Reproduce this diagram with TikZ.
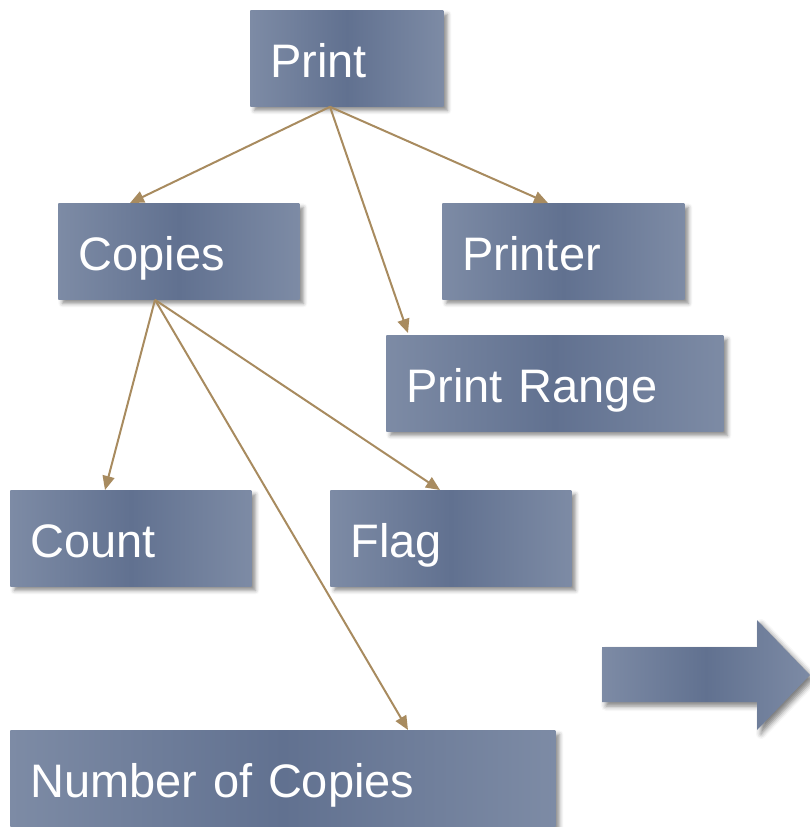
\documentclass[tikz,border=0pt]{standalone}
\usepackage{fontspec}
\setmainfont{Liberation Sans}
\usetikzlibrary{arrows.meta,shadows.blur,calc}
\definecolor{boxlight}{HTML}{7D8BA5}
\definecolor{boxdark}{HTML}{617190}
\definecolor{linkc}{HTML}{A88B5F}
\tikzset{
  box/.style={rectangle, anchor=north west, inner xsep=10pt, inner ysep=0pt,
    minimum height=48pt, align=left, text=white, text height=20.5pt, text depth=1.5pt,
    font=\fontsize{23.5}{28}\selectfont,
    left color=boxlight, right color=boxlight, middle color=boxdark,
    blur shadow={shadow xshift=2pt, shadow yshift=-2pt, shadow blur radius=2pt, shadow opacity=45}},
  link/.style={draw=linkc, line width=1pt, -{Triangle[length=7pt,width=6pt]}},
  bigarrow/.style={left color=boxlight, right color=boxlight, middle color=boxdark,
    blur shadow={shadow xshift=2pt, shadow yshift=-2pt, shadow blur radius=2.5pt, shadow opacity=50}}
}
\begin{document}
\begin{tikzpicture}[x=0.5pt,y=-0.5pt]
\useasboundingbox (0,0) rectangle (810,827);
\node[box, text width=76.5pt] (print) at (250,10) {Print};
\node[box, text width=100.5pt] (copies) at (58,203) {Copies};
\node[box, text width=101pt] (printer) at (442,203) {Printer};
\node[box, text width=148.5pt] (range) at (386,335) {Print Range};
\node[box, text width=100.5pt] (count) at (10,490) {Count};
\node[box, text width=100.5pt] (flag) at (330,490) {Flag};
\node[box, text width=252.5pt] (number) at (10,730) {Number of Copies};
\path[bigarrow] (602,647) -- (757,647) -- (757,620) -- (810,675) -- (757,730) -- (757,702) -- (602,702) -- cycle;
\coordinate (ps) at ([xshift=40pt]print.south west);
\coordinate (cs) at ([xshift=48.5pt]copies.south west);
\draw[link] (ps) -- ([xshift=36pt]copies.north west);
\draw[link] (ps) -- ([xshift=53pt]printer.north west);
\draw[link] (ps) -- ([xshift=11pt,yshift=1pt]range.north west);
\draw[link] (cs) -- ([xshift=47.5pt]count.north west);
\draw[link] (cs) -- ([xshift=55pt]flag.north west);
\draw[link] (cs) -- ([xshift=199pt]number.north west);
\end{tikzpicture}
\end{document}
